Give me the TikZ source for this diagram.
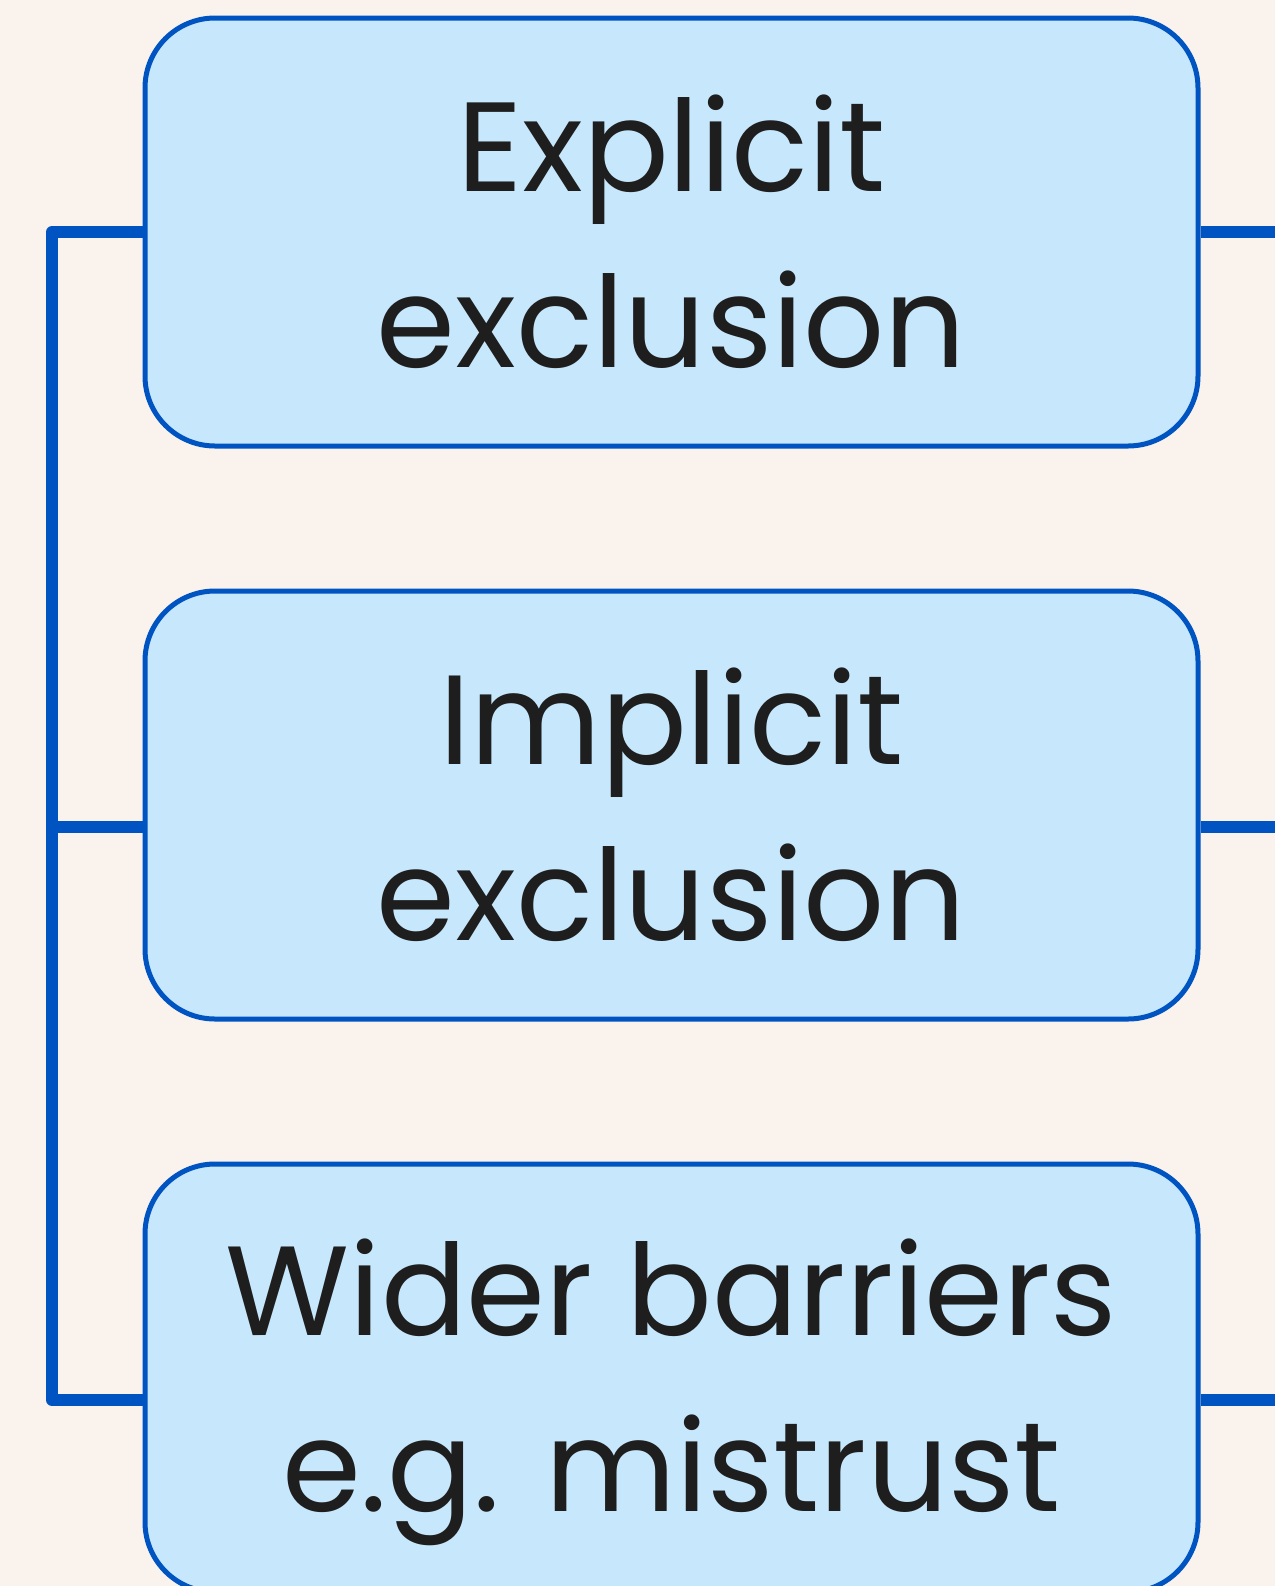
\documentclass[tikz,border=0pt]{standalone}
\usepackage{fontspec}
\setmainfont{Poppins}
\usetikzlibrary{positioning,calc}

\definecolor{bgcream}{RGB}{250,243,237}
\definecolor{boxfill}{RGB}{199,232,252}
\definecolor{boxline}{RGB}{0,84,194}
\definecolor{txtdark}{RGB}{30,30,30}

\begin{document}
\begin{tikzpicture}[x=0.5pt, y=-0.5pt,
    node distance=70pt,
    box/.style={draw=boxline, fill=boxfill, line width=2.5pt, rounded corners=35pt,
        minimum width=526.5pt, minimum height=214pt, align=center, text=txtdark,
        font=\fontsize{63.5}{88}\selectfont, inner sep=0pt},
    link/.style={draw=boxline, line width=5.8pt, line join=round},
]
% Page
\fill[bgcream] (0,0) rectangle (1275,1586);
\useasboundingbox (0,0) rectangle (1275,1586);

% Boxes
\node[box] (explicit) at (671.5,232) {Explicit\\exclusion};
\node[box, below=of explicit] (implicit) {Implicit\\exclusion};
\node[box, below=of implicit] (wider) {\rule{0pt}{63pt}Wider barriers\\e.g. mistrust};

% Where the links meet the boxes
\coordinate (expin) at (explicit.west);
\coordinate (impin) at ([yshift=-11pt]implicit.west);
\coordinate (widin) at ([yshift=-11pt]wider.west);
\coordinate (expout) at (explicit.east);
\coordinate (impout) at ([yshift=-11pt]implicit.east);
\coordinate (widout) at ([yshift=-11pt]wider.east);

% Trunk and page edge
\coordinate (trunk) at (52,0);
\coordinate (edge) at (1285,0);

% Links
\draw[link] (expin) -- (expin -| trunk) -- (widin -| trunk) -- (widin);
\draw[link] (impin -| trunk) -- (impin);
\draw[link] (expout) -- (expout -| edge);
\draw[link] (impout) -- (impout -| edge);
\draw[link] (widout) -- (widout -| edge);
\end{tikzpicture}
\end{document}
